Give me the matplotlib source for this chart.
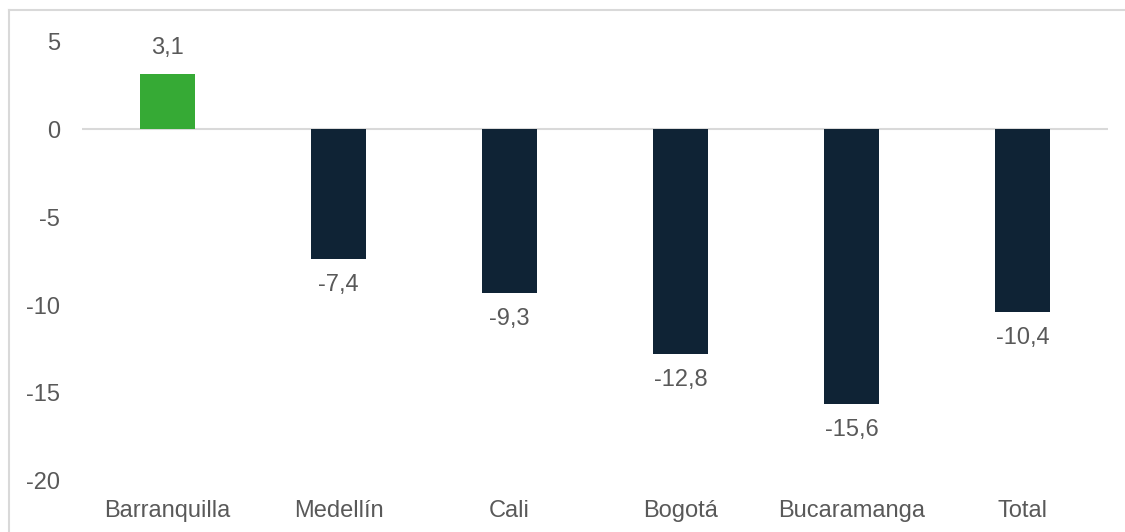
import matplotlib
matplotlib.use('Agg')
import matplotlib.pyplot as plt
from matplotlib.lines import Line2D

# Datos
ciudades = ['Barranquilla', 'Medellín', 'Cali', 'Bogotá', 'Bucaramanga', 'Total']
valores = [3.1, -7.4, -9.3, -12.8, -15.6, -10.4]
ticks_y = [5, 0, -5, -10, -15, -20]

plt.rcParams['font.family'] = ['Liberation Sans', 'DejaVu Sans']
texto = '#595959'

fig = plt.figure(figsize=(11.25, 5.32), dpi=100)
ax = fig.add_axes([82 / 1125, 1 - 481 / 532, 1026 / 1125, 440 / 532])

colores = ['#36AA35' if v > 0 else '#0F2335' for v in valores]
x = range(len(ciudades))
ax.bar(x, valores, width=0.32, color=colores, zorder=3)

# Etiquetas de valores
for i, v in enumerate(valores):
    etiqueta = f'{v:.1f}'.replace('.', ',')
    off = 26 if v > 0 else -26
    ax.annotate(etiqueta, (i, v), xytext=(0, off), textcoords='offset pixels',
                ha='center', va='center', fontsize=17, color=texto)

ax.axhline(0, color='#D9D9D9', linewidth=1.5, zorder=2)
ax.set_xlim(-0.5, len(ciudades) - 0.5)
ax.set_ylim(-20, 5)
ax.set_yticks(ticks_y)
ax.set_yticklabels([str(t) for t in ticks_y])
ax.set_xticks(list(x))
ax.set_xticklabels(ciudades)
ax.tick_params(axis='both', length=0, labelsize=17, labelcolor=texto)
ax.tick_params(axis='x', pad=14)
ax.tick_params(axis='y', pad=16)
for s in ax.spines.values():
    s.set_visible(False)

# Borde del gráfico (arriba e izquierda)
fig.add_artist(Line2D([9 / 1125, 9 / 1125], [0, 1 - 10 / 532], transform=fig.transFigure,
                      color='#D9D9D9', linewidth=1.5))
fig.add_artist(Line2D([9 / 1125, 1], [1 - 10 / 532, 1 - 10 / 532], transform=fig.transFigure,
                      color='#D9D9D9', linewidth=1.5))

fig.savefig('out.png', dpi=100)
